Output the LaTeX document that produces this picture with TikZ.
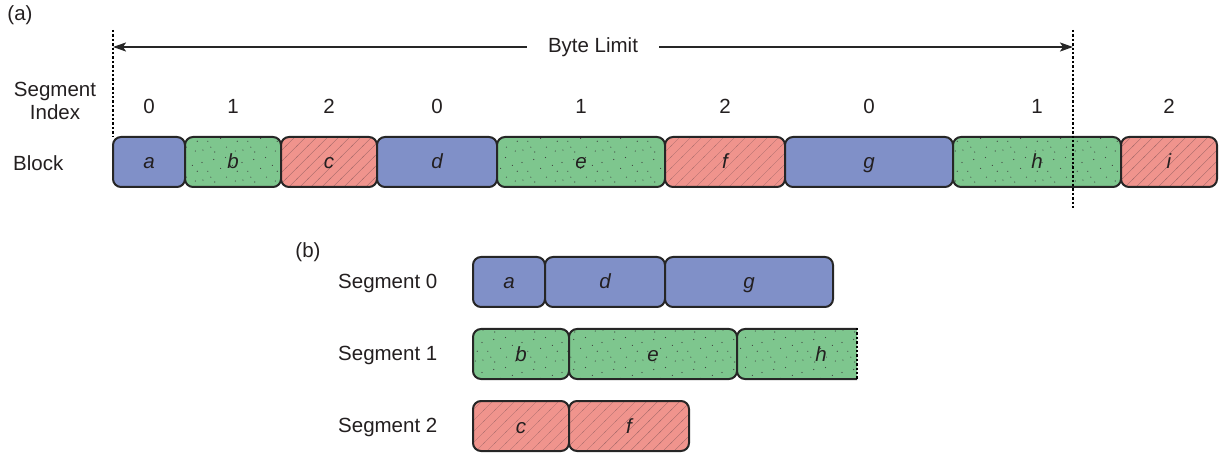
\documentclass[tikz,border=0pt]{standalone}
\usepackage{fontspec}
\setmainfont{Liberation Sans}
\usetikzlibrary{patterns,arrows.meta}
\definecolor{bblue}{RGB}{128,144,200}
\definecolor{bgreen}{RGB}{126,198,142}
\definecolor{bred}{RGB}{240,148,141}
\definecolor{edge}{RGB}{38,38,38}
\definecolor{txt}{RGB}{35,31,32}
\definecolor{hatchc}{RGB}{165,105,105}
\pgfdeclarepatternformonly{speckle}{\pgfpointorigin}{\pgfpoint{40pt}{30pt}}{\pgfpoint{40pt}{30pt}}{%
  \pgfpathcircle{\pgfpoint{3pt}{4pt}}{0.6pt}
  \pgfpathcircle{\pgfpoint{15pt}{2pt}}{0.6pt}
  \pgfpathcircle{\pgfpoint{27pt}{7pt}}{0.6pt}
  \pgfpathcircle{\pgfpoint{36pt}{3pt}}{0.6pt}
  \pgfpathcircle{\pgfpoint{8pt}{13pt}}{0.6pt}
  \pgfpathcircle{\pgfpoint{21pt}{16pt}}{0.6pt}
  \pgfpathcircle{\pgfpoint{33pt}{19pt}}{0.6pt}
  \pgfpathcircle{\pgfpoint{2pt}{22pt}}{0.6pt}
  \pgfpathcircle{\pgfpoint{14pt}{25pt}}{0.6pt}
  \pgfpathcircle{\pgfpoint{26pt}{27pt}}{0.6pt}
  \pgfpathcircle{\pgfpoint{38pt}{13pt}}{0.6pt}
  \pgfpathcircle{\pgfpoint{11pt}{7pt}}{0.6pt}
  \pgfusepath{fill}}
\pgfdeclarepatternformonly{hatch}{\pgfpoint{-1pt}{-1pt}}{\pgfpoint{12pt}{12pt}}{\pgfpoint{11pt}{11pt}}{%
  \pgfsetlinewidth{0.35pt}
  \pgfpathmoveto{\pgfpoint{-1pt}{-1pt}}
  \pgfpathlineto{\pgfpoint{12pt}{12pt}}
  \pgfusepath{stroke}}
\begin{document}
\begin{tikzpicture}[x=1pt,y=-1pt,
  every node/.style={font=\fontsize{20.5}{23}\selectfont, text=txt},
  blk/.style={draw=edge, line width=2pt, rounded corners=8pt, minimum height=50pt,
    inner sep=0pt, text height=15pt, text depth=1pt,
    font=\fontsize{20.5}{23}\selectfont\itshape},
  sblue/.style={blk, fill=bblue},
  sgreen/.style={blk, preaction={fill=bgreen}, pattern=speckle, pattern color=black!75},
  sred/.style={blk, preaction={fill=bred}, pattern=hatch, pattern color=hatchc},
  limit/.style={line width=2.6pt, dash pattern=on 2.4pt off 2pt, draw=black},
  lbl/.style={inner sep=0pt, anchor=west}]
\useasboundingbox (0,0) rectangle (1221,454);

% (a)
\node (la) at (20,15) {(a)};
\node[align=center] (segidx) at (55,101) {Segment\\Index};
\node[lbl] (blocklbl) at (13,163) {Block};

\node[sblue, minimum width=72pt]  (a) at (149,162) {a};
\node[sgreen, minimum width=96pt] (b) at (233,162) {b};
\node[sred, minimum width=96pt]   (c) at (329,162) {c};
\node[sblue, minimum width=120pt] (d) at (437,162) {d};
\node[sgreen, minimum width=168pt] (e) at (581,162) {e};
\node[sred, minimum width=120pt]  (f) at (725,162) {f};
\node[sblue, minimum width=168pt] (g) at (869,162) {g};
\node[sgreen, minimum width=168pt] (h) at (1037,162) {h};
\node[sred, minimum width=96pt]   (i) at (1169,162) {i};

\coordinate (idxrow) at (0,106);
\foreach \n/\k in {a/0,b/1,c/2,d/0,e/1,f/2,g/0,h/1,i/2}
  \node (idx\n) at (\n |- idxrow) {\k};

\coordinate (LT) at (113,30);
\coordinate (LB) at (113,137);
\coordinate (RT) at (1073,30);
\coordinate (RB) at (1073,209);
\coordinate (LA) at (113,47);
\coordinate (RA) at (1073,47);
\draw[limit] (LT) -- (LB);
\draw[line width=2pt, draw=edge, {Stealth[length=13pt,width=9pt,inset=3pt]}-{Stealth[length=13pt,width=9pt,inset=3pt]}] (LA) -- (RA);
\node[fill=white, inner xsep=21pt, inner ysep=2pt] (bl) at (593,47) {Byte Limit};
\draw[limit] (RT) -- (RB);

% (b)
\node (lb) at (308,252) {(b)};
\node[lbl] (s0) at (338,283) {Segment 0};
\node[lbl] (s1) at (338,355) {Segment 1};
\node[lbl] (s2) at (338,427) {Segment 2};

\node[sblue, minimum width=72pt]  (a0) at (509,282) {a};
\node[sblue, minimum width=120pt] (d0) at (605,282) {d};
\node[sblue, minimum width=168pt] (g0) at (749,282) {g};

\node[sgreen, minimum width=96pt]  (b1) at (521,354) {b};
\node[sgreen, minimum width=168pt] (e1) at (653,354) {e};
\coordinate (trunc) at (857,0);
\begin{scope}
  \clip (700,320) rectangle (trunc |- 0,390);
  \node[sgreen, minimum width=168pt] (h1) at (821,354) {h};
\end{scope}
\draw[limit] (h1.north -| trunc) -- (h1.south -| trunc);

\node[sred, minimum width=96pt]  (c2) at (521,426) {c};
\node[sred, minimum width=120pt] (f2) at (629,426) {f};
\end{tikzpicture}
\end{document}
